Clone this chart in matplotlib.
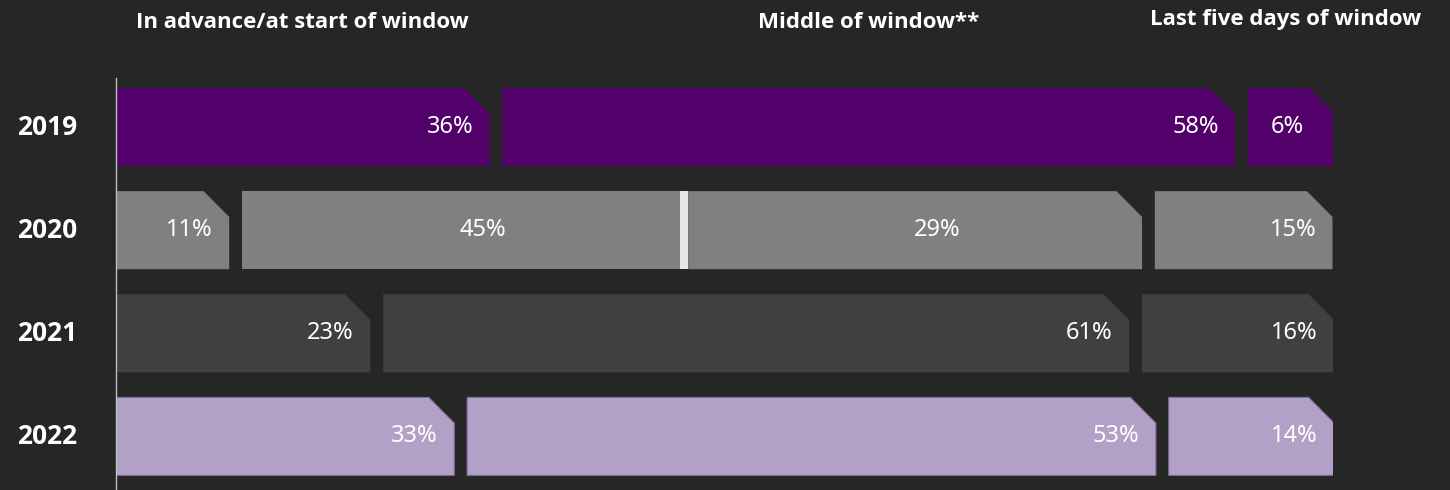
#!/usr/bin/env python3
import numpy as np
import matplotlib
matplotlib.use('Agg')
import matplotlib.pyplot as plt
from matplotlib.patches import Polygon

years = ['2019', '2020', '2021', '2022']
headers = ['In advance/at start of window', 'Middle of window**', 'Last five days of window']

# labels shown on the segments
share_2019 = [36, 58, 6]
share_2020 = [11, 45, 29, 15]
share_2021 = [23, 61, 16]
share_2022 = [33, 53, 14]

# drawn length of each segment (% of the full row)
drawn_2019 = [30.7, 60.2, 7.1]
drawn_2020 = [9.3, 36.0, 37.3, 14.6]
drawn_2021 = [20.9, 61.3, 15.8]
drawn_2022 = [27.8, 56.6, 13.6]

row_colors = ['#52006A', '#808080', '#404040', '#B2A1C7']
bg = '#262626'


def snipbar(ax, x0, w, y, h, color, snip=True, ec='none'):
	# bar with the top right corner cut off
	cx = 2.1
	cy = h * 0.33
	top = y - h / 2
	bot = y + h / 2
	if snip:
		pts = [(x0, bot), (x0 + w, bot), (x0 + w, top + cy), (x0 + w - cx, top), (x0, top)]
	else:
		pts = [(x0, bot), (x0 + w, bot), (x0 + w, top), (x0, top)]
	ax.add_patch(Polygon(pts, closed=True, fc=color, ec=ec, lw=0.8))


def main():
	plt.rcParams['font.family'] = ['Noto Sans', 'DejaVu Sans']
	boldfam = ['Open Sans', 'DejaVu Sans']
	fig = plt.figure(figsize=(14.5, 4.9), dpi=100, facecolor=bg)
	ax = fig.add_axes([116 / 1450, 0, 1217 / 1450, 1 - 78 / 490])
	ax.set_facecolor(bg)
	ax.set_xlim(0, 100)
	ax.set_ylim(3.52, -0.476)
	for s in ['top', 'right', 'bottom']:
		ax.spines[s].set_visible(False)
	ax.spines['left'].set_color('#BFBFBF')
	ax.spines['left'].set_linewidth(1.0)
	ax.set_xticks([])
	ax.set_yticks([])

	shares = [share_2019, share_2020, share_2021, share_2022]
	drawn = [drawn_2019, drawn_2020, drawn_2021, drawn_2022]
	h = 0.757
	gap = 1.05
	sep = 0.66
	fs = 17
	for r in range(len(years)):
		x = 0
		col = row_colors[r]
		ec = '#7E6C98' if r == 3 else 'none'
		for i, (v, w) in enumerate(zip(shares[r], drawn[r])):
			split = (r == 1 and i == 1)
			snipbar(ax, x, w, r, h, col, snip=not split, ec=ec)
			if r == 1 and i in (1, 2):
				ax.text(x + w / 2 + 1.8, r, f'{v}%', ha='center', va='center',
						color='white', fontsize=fs)
			elif r == 0 and i == 2:
				ax.text(x + w / 2 - 0.3, r, f'{v}%', ha='center', va='center',
						color='white', fontsize=fs)
			else:
				ax.text(x + w - 1.35, r, f'{v}%', ha='right', va='center',
						color='white', fontsize=fs)
			if split:
				ax.barh(r, sep, left=x + w, height=h, color='#E6E6E6')
				x += w + sep
			else:
				x += w + gap
		ax.text(-0.0813, r, years[r], transform=ax.get_yaxis_transform(),
				ha='left', va='center', color='white', fontsize=19,
				fontweight='bold', family=boldfam)

	hx = [302, 869, 1286]
	hy = [22, 22, 20]
	for t, x, y in zip(headers, hx, hy):
		fig.text(x / 1450, 1 - y / 490, t, ha='center', va='center', color='white',
				fontsize=16, fontweight='bold', family=boldfam)

	fig.savefig('out.png', dpi=100, facecolor=bg)
	plt.close()


if __name__ == '__main__':
	main()
